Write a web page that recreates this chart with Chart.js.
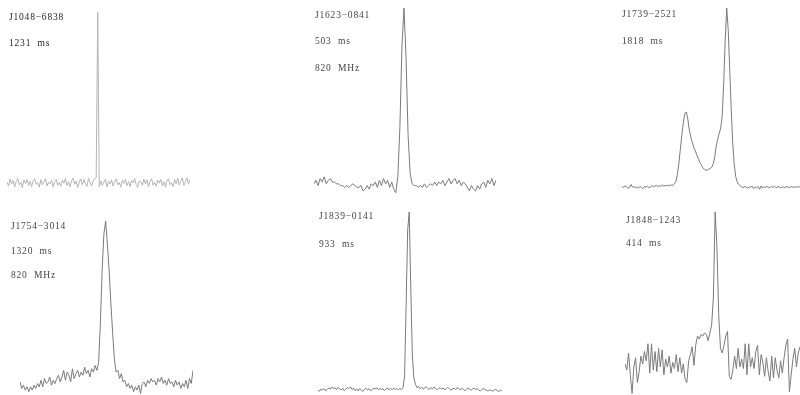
<!DOCTYPE html>
<html>
<head>
<meta charset="utf-8">
<script src="https://cdn.jsdelivr.net/npm/chart.js@4.4.1/dist/chart.umd.min.js"></script>
<style>
  html, body { margin: 0; padding: 0; background: #fff; }
  #page { position: relative; width: 800px; height: 395px; overflow: hidden; }
  #page canvas { position: absolute; }
  .lbl {
    position: absolute;
    font-family: "Liberation Serif", "Times New Roman", serif;
    font-size: 9.5px;
    line-height: 9px;
    letter-spacing: 0.8px;
    color: #444;
    white-space: pre;
  }
</style>
</head>
<body>
<div id="page"></div>
<script>
// pulse profiles, intensity normalised so the peak is 100
const profileJ1048 = [
  0.5, -1.8, 2.2, -0.6, 1.4, -2.4, 0.8, 2.6, -1.2, 0.3,
  -2.8, 1.6, -0.4, 2.0, -1.5, 0.9, -2.2, 1.2, 2.4, -0.9,
  0.1, -2.5, 1.8, -1.1, 0.6, 2.3, -1.9, 0.4, -0.7, 1.5,
  -2.6, 0.8, 2.1, -1.4, 0.2, -2.0, 1.7, -0.3, 2.5, -1.6,
  0.7, -2.3, 1.3, 2.8, -0.8, 1.0, -2.7, 0.5, 2.2, -1.3,
  1.9, -0.5, -2.1, 2.6, 0.3, -1.8, 1.1, 2.4,
  3.0, 100, -2.5,
  1.2, -1.6, 0.4, 2.0, -2.4, 0.9, -0.6, 1.8, -1.9,
  0.6, 2.3, -1.2, 0.2, -2.5, 1.5, -0.4, 2.1, -1.7, 0.8,
  -2.2, 1.4, 0.0, 2.6, -1.0, -2.6, 1.1, 0.5, -1.5, 2.2,
  -0.7, 1.7, -2.3, 0.9, 2.4, -1.4, 0.3, -2.0, 1.6, -0.2,
  2.0, -1.8, 0.7, -2.5, 1.3, 2.5, -1.1, 0.1, -2.2, 1.9,
  -0.6, 2.7, -1.3, 1.0, 2.9, -1.5, 0.4, 3.0, -0.8, 2.0
];
const profileJ1623 = [
  0, 2, -1, 3, 1, 4, 0, 2, 3, 1,
  1, 0, 0, -1, -1, -2, -1, -2, -1, 0,
  -1, -2, -2, -1, -4, -3, -1, -3, 0, -1,
  1, -2, 2, -1, 3, 0, 2, -2, 1, -3,
  -5, 4, 32, 78, 100, 72, 28, 6, 0, -1,
  -1, -2, -1, -2, 0, -2, -1, 0, -1, 1,
  -1, 1, 0, 2, -1, 1, 3, 0, 2, 3,
  0, 2, -1, 1, 0, -2, -4, -1, -3, -4,
  -1, -3, 0, 1, -2, 2, 0, 3, -1, 2
];
const profileJ1739 = [
  0.5, -0.3, 0.8, 0.2, -0.6, -0.2, 1.5, 0.1, 0.3, -0.4,
  0.2, -0.5, 0.4, -0.1, -0.8, 0.3, 0.0, 0.6, -0.3, 0.1,
  0.9, 0.2, 0.6, 1.0, 0.4, 0.7, 0.5, 1.2, 0.6, 0.9,
  0.8, 1.1, 0.7, 1.3, 1.0, 1.8, 3, 7, 13, 21,
  29, 36, 41, 42, 38, 32, 28, 25, 22, 20.5,
  18, 16, 14, 12.5, 11, 10, 9.5, 9.5, 10, 10.5,
  11, 13, 17, 23, 27, 30, 33, 40, 58, 82,
  100, 88, 66, 44, 25, 13, 6, 3, 1.5, 0.8,
  0.2, -0.4, 0.5, 0.0, -0.6, 0.3, -0.2, 0.6, -0.8, 0.1,
  -0.3, 0.4, -1.2, 0.7, -0.5, 0.2, -0.1, 0.5, -0.4, 0.0,
  0.3, -0.2, 0.6, -0.3, 0.1, 0.4, -0.5, 0.2, 0.0, -0.2,
  0.3, 0.1, -0.3, 0.4, 0.0, 0.2, -0.2, 0.3, 0.1, 0.2
];
const profileJ1754 = [
  2, -2, 0, -3, -1, -4, -1, -3, 0, -2,
  1, -1, 3, -1, 4, 1, 2, 5, 0, 3,
  1, 4, 6, 2, 5, 9, 3, 8, 6, 2,
  10, 4, 7, 9, 5, 8, 6, 11, 7, 9,
  5, 10, 8, 12, 9, 14, 38, 70, 92, 100,
  86, 70, 50, 32, 16, 8, 9, 4, 7, 2,
  3, -1, 1, -2, 0, -4, -1, -3, 0, -5,
  1, 2, -1, 3, 1, 4, 2, 3, 0, 4,
  2, 5, 1, 3, 0, 4, 1, 2, -1, 3,
  0, 2, -2, 1, -1, 3, -2, 4, 1, 9
];
const profileJ1839 = [
  0, -0.5, 0.8, 0.2, 1.0, -0.3, 0.5, 1.4, 0.6, 1.8,
  1.0, 1.5, 0.4, 1.7, 0.8, 0.2, 1.2, -0.2, 0.6, 1.6,
  0.9, 2.0, 0.5, 1.2, 0.0, 0.8, -0.4, 1.0, 0.3, -0.6,
  0.5, 1.2, 0.2, 0.9, -0.3, 0.4, 1.3, 0.6, 1.5, 0.3,
  1.1, 0.4, 0.9, -0.2, 0.7, 1.4, 0.2, 1.0, 0.5, 1.2,
  0.6, 0.9, 0.3, 1.1, 0.4, 1.5, 8, 48, 90, 100,
  58, 20, 7, 3.5, 1.5, 2.2, 0.9, 1.8, 0.6, 1.4,
  2.0, 1.1, 0.5, 1.6, 0.7, 1.9, 1.2, 0.3, 1.0, 1.5,
  0.6, 1.3, 0.2, 0.9, 1.7, 0.8, 0.1, 0.7, 1.2, 0.4,
  1.5, 0.9, 0.2, 1.1, 0.5, -0.2, 0.6, 1.3, 0.7, 0.0,
  0.8, 1.2, 0.4, 0.9, 0.1, -0.3, 0.5, 1.1, 0.4, 0.0,
  -0.4, 0.3, 0.0, -0.5, 0.2, 0.6, -0.2, -0.6, 0.1, -0.3
];
const profileJ1848 = [
  2, -2, 9, -5, -17, 0, 6, -10, -3, 7,
  2, 10, 4, 15, -4, 15, -2, 10, -3, 12,
  0, 11, -5, 5, 0, 7, -4, 3, -1, 8,
  -3, 6, -4, 2, -8, -10, 4, 8, 13, 1,
  14, 20, 18, 21, 20, 22, 21, 17, 22, 27,
  45, 100, 78, 34, 12, 9, 14, 20, 23, -6,
  -8, -2, 7, -1, 12, 0, 5, -1, 15, -5,
  15, 0, 6, -1, 10, 14, -5, 8, 3, -6,
  6, -3, -9, 7, -7, 6, -2, -7, 4, -4,
  6, 14, 18, -16, -5, 5, 12, 0, 9, 13
];

const pulsarNames = ['J1048\u22126838', 'J1623\u22120841', 'J1739\u22122521', 'J1754\u22123014', 'J1839\u22120141', 'J1848\u22121243'];
const periods = ['1231  ms', '503  ms', '1818  ms', '1320  ms', '933  ms', '414  ms'];
const freqs = [null, '820  MHz', null, '820  MHz', null, null];
const profiles = [profileJ1048, profileJ1623, profileJ1739, profileJ1754, profileJ1839, profileJ1848];

// where each panel sits on the page
const frames = [
  { left: 7,   right: 190, peakY: 12,  zeroY: 183, color: '#b4b4b4', text: '#222', tx: 9,   lines: [21, 46.5] },
  { left: 314, right: 496, peakY: 8,   zeroY: 184, color: '#7a7a7a', text: '#444', tx: 315, lines: [18.3, 45, 72] },
  { left: 622, right: 800, peakY: 8,   zeroY: 187, color: '#7a7a7a', text: '#444', tx: 622, lines: [18, 45] },
  { left: 20,  right: 193, peakY: 221, zeroY: 385, color: '#7a7a7a', text: '#444', tx: 11,  lines: [230, 255, 279] },
  { left: 318, right: 502, peakY: 212, zeroY: 390, color: '#7a7a7a', text: '#444', tx: 319, lines: [220, 248] },
  { left: 625, right: 800, peakY: 212, zeroY: 367, color: '#7a7a7a', text: '#444', tx: 626, lines: [224, 247] }
];
const Y_MIN = -20;

const page = document.getElementById('page');

function addLabel(str, x, baseline, color) {
    const d = document.createElement('div');
    d.className = 'lbl';
    d.textContent = str;
    d.style.left = x + 'px';
    d.style.top = (baseline - 7.8) + 'px';
    d.style.color = color;
    page.appendChild(d);
}

profiles.forEach((data, i) => {
    const f = frames[i];
    const w = f.right - f.left;
    const h = Math.round((f.zeroY - f.peakY) * (100 - Y_MIN) / 100);
    const canvas = document.createElement('canvas');
    canvas.width = w;
    canvas.height = h;
    canvas.style.left = f.left + 'px';
    canvas.style.top = f.peakY + 'px';
    canvas.style.width = w + 'px';
    canvas.style.height = h + 'px';
    page.appendChild(canvas);

    new Chart(canvas.getContext('2d'), {
        type: 'line',
        data: {
            labels: data.map((_, k) => k),
            datasets: [{
                data: data,
                borderColor: f.color,
                borderWidth: 1,
                pointRadius: 0,
                tension: 0,
                clip: false
            }]
        },
        options: {
            responsive: false,
            animation: false,
            events: [],
            layout: { padding: 0 },
            plugins: { legend: { display: false }, tooltip: { enabled: false } },
            scales: {
                x: { display: false },
                y: { display: false, min: Y_MIN, max: 100 }
            }
        }
    });

    const texts = [pulsarNames[i], periods[i]];
    if (freqs[i]) texts.push(freqs[i]);
    texts.forEach((t, k) => addLabel(t, f.tx, f.lines[k], f.text));
});
</script>
</body>
</html>
